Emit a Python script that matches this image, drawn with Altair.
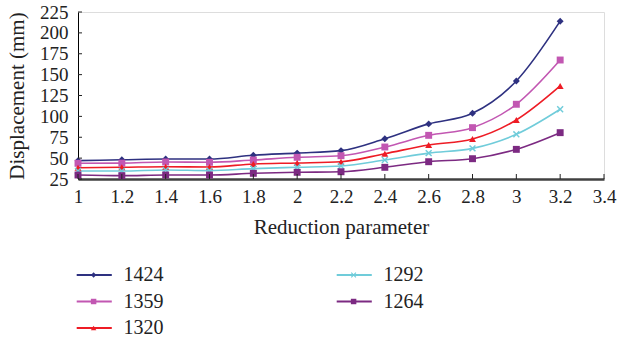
import altair as alt
import pandas as pd

# ---- data ----
x_vals = [1.0, 1.2, 1.4, 1.6, 1.8, 2.0, 2.2, 2.4, 2.6, 2.8, 3.0, 3.2]
s1424 = [47, 48, 49, 49, 53.4, 56, 59, 73.3, 91, 103.7, 142.4, 214]
s1359 = [43.8, 44, 45.4, 45, 47.8, 51, 52.9, 63.3, 77.3, 86.5, 114.5, 167.5]
s1320 = [38.5, 39, 39.7, 39.4, 43, 44.2, 45.7, 55.3, 65.7, 72.9, 95.7, 136.4]
s1292 = [34.6, 34.6, 35.8, 35, 37.4, 39, 40.6, 47.8, 56, 61.7, 78.5, 108.5]
s1264 = [29.8, 29, 29.8, 29.8, 31.8, 33, 33.7, 39, 45.7, 49.3, 60.5, 80.5]

series_names = ["1424", "1359", "1320", "1292", "1264"]
series_vals = [s1424, s1359, s1320, s1292, s1264]
colors = ["#2E3180", "#C257B2", "#EE1C25", "#70CCDA", "#7C2A82"]
x_path = "M-1,-0.7L-0.7,-1L0,-0.3L0.7,-1L1,-0.7L0.3,0L1,0.7L0.7,1L0,0.3L-0.7,1L-1,0.7L-0.3,0Z"
shapes = ["diamond", "square", "triangle-up", x_path, "square"]

x_ticks = [1, 1.2, 1.4, 1.6, 1.8, 2, 2.2, 2.4, 2.6, 2.8, 3, 3.2, 3.4]
y_ticks = [25, 50, 75, 100, 125, 150, 175, 200, 225]

# legend layout (column-major like the reference)
leg_col = [0, 0, 0, 1, 1]
leg_row = [0, 1, 2, 0, 1]

FONT = "Liberation Serif"
FS = 19
TFS = 21
W, H = 526, 167

rows = []
for name, vals in zip(series_names, series_vals):
    for xv, yv in zip(x_vals, vals):
        rows.append({"series": name, "x": xv, "y": yv})
df = pd.DataFrame(rows)

leg_df = pd.DataFrame({"series": series_names, "col": leg_col, "row": leg_row})
xt_df = pd.DataFrame({"t": x_ticks})
yt_df = pd.DataFrame({"t": y_ticks})

xscale = alt.Scale(domain=[1, 3.4], nice=False, zero=False)
yscale = alt.Scale(domain=[25, 225], nice=False, zero=False)
color = alt.Color("series:N", scale=alt.Scale(domain=series_names, range=colors), legend=None)
shape = alt.Shape("series:N", scale=alt.Scale(domain=series_names, range=shapes), legend=None)

x_axis = alt.Axis(
    values=x_ticks, format="~g", ticks=False, grid=False, domainColor="#404040",
    domainWidth=2.5, labelFont=FONT, labelFontSize=FS, labelColor="#222",
    labelOverlap=False, labelFlush=False,
    labelPadding=8, title="Reduction parameter", titleFont=FONT, titleFontSize=TFS,
    titleFontWeight="normal", titleColor="#222", titlePadding=10)
y_axis = alt.Axis(
    values=y_ticks, ticks=False, grid=False, domainColor="#000", domainWidth=1,
    labelFont=FONT, labelFontSize=FS, labelColor="#222", labelPadding=10,
    labelOverlap=False, labelFlush=False,
    title="Displacement (mm)", titleFont=FONT, titleFontSize=TFS,
    titleFontWeight="normal", titleColor="#222", titlePadding=12)

lines = alt.Chart(df).mark_line(interpolate="monotone", strokeWidth=1.6).encode(
    x=alt.X("x:Q", scale=xscale, axis=x_axis),
    y=alt.Y("y:Q", scale=yscale, axis=y_axis),
    color=color, detail="series:N")
points = alt.Chart(df).mark_point(filled=True, size=48, opacity=1).encode(
    x=alt.X("x:Q", scale=xscale, axis=x_axis),
    y=alt.Y("y:Q", scale=yscale, axis=y_axis),
    color=color, shape=shape)

xticks = alt.Chart(xt_df).mark_rule(color="#222", strokeWidth=1).encode(
    x=alt.X("t:Q", scale=xscale, axis=x_axis), y=alt.value(H), y2=alt.value(H - 5))
yticks = alt.Chart(yt_df).mark_rule(color="#222", strokeWidth=1).encode(
    y=alt.Y("t:Q", scale=yscale, axis=y_axis), x=alt.value(0), x2=alt.value(4))

main = alt.layer(lines, points, xticks, yticks)

lx = alt.Scale(domain=[0, 1], range=[0, 260])
ly = alt.Scale(domain=[0, 2], range=[263, 316])
leg_base = alt.Chart(leg_df)
leg_line = leg_base.transform_calculate(a="datum.col - 0.005", b="datum.col + 0.13").mark_rule(
    strokeWidth=2).encode(
    x=alt.X("a:Q", scale=lx, axis=None), x2="b:Q",
    y=alt.Y("row:Q", scale=ly, axis=None), color=color)
leg_pt = leg_base.transform_calculate(m="datum.col + 0.06").mark_point(
    filled=True, size=30, opacity=1).encode(
    x=alt.X("m:Q", scale=lx, axis=None), y=alt.Y("row:Q", scale=ly, axis=None),
    color=color, shape=shape)
leg_txt = leg_base.transform_calculate(t="datum.col + 0.175").mark_text(
    align="left", baseline="middle", font=FONT, fontSize=20, color="#222").encode(
    x=alt.X("t:Q", scale=lx, axis=None), y=alt.Y("row:Q", scale=ly, axis=None),
    text="series:N")
legend = alt.layer(leg_line, leg_pt, leg_txt)

chart = alt.layer(main, legend).resolve_scale(x="independent", y="independent").properties(
    width=W, height=H,
    autosize=alt.AutoSizeParams(type="none"),
    padding={"left": 78, "top": 12, "right": 13, "bottom": 164},
).configure_view(stroke=None).configure_axis(labelOverlap=False).configure(background="white")

chart.save("out.html", embed_options={"renderer": "svg", "actions": False})
